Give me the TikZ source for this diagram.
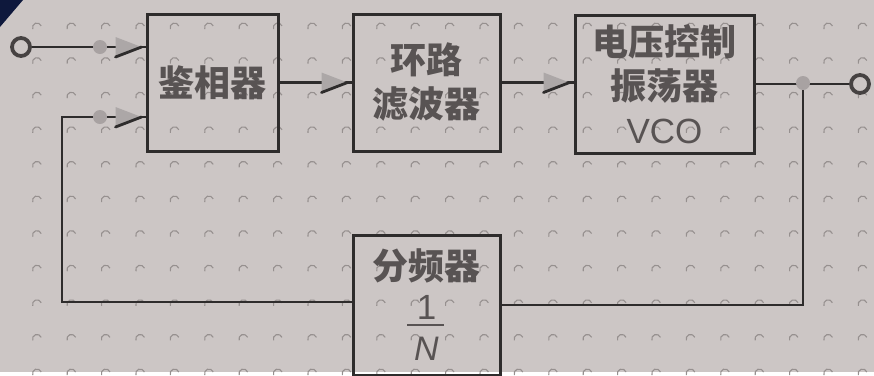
\documentclass[tikz,border=0pt]{standalone}
\usepackage{fontspec}
\setmainfont{Liberation Sans}
\newfontfamily\cjk{Noto Sans CJK SC}
\usetikzlibrary{calc}
\definecolor{bg}{RGB}{204,198,197}
\definecolor{ink}{RGB}{46,44,44}
\definecolor{txt}{RGB}{88,83,83}
\definecolor{dotc}{RGB}{150,144,143}
\definecolor{navy}{RGB}{14,24,60}
\definecolor{afill}{RGB}{172,167,167}
\definecolor{jfill}{RGB}{168,162,162}
\definecolor{ring}{RGB}{70,66,66}
\pgfdeclarelayer{bottom}
\pgfdeclarelayer{wires}
\pgfsetlayers{bottom,wires,main}
\begin{document}
\begin{tikzpicture}[x=1pt,y=-1pt,
  wire/.style={draw=ink,line width=2.8pt},
  blk/.style={draw=ink,line width=3pt,rectangle,inner sep=0pt,align=center,text=txt,font=\cjk\bfseries\fontsize{36}{44}\selectfont},
  cjktxt/.style={text=txt,font=\cjk\bfseries\fontsize{36}{44}\selectfont,inner sep=0pt},
  lattxt/.style={text=txt,font=\fontsize{35}{40}\selectfont,inner sep=0pt},
  term/.style={circle,draw=ring,line width=3.8pt,fill=bg,minimum size=18pt,inner sep=0pt},
  junc/.style={circle,fill=jfill,minimum size=14pt,inner sep=0pt},
  earrow/.pic={\fill[afill] (0,0) -- (-26,-10) -- (-26,10) -- cycle; \draw[ink,line width=2.8pt,line cap=round] (-26,10) -- (0,0);}
]
\begin{pgfonlayer}{bottom}
\fill[bg] (0,0) rectangle (874,372);
\fill[navy] (0,0) -- (23,0) -- (0,27) -- cycle;
\foreach \i in {0,...,24}{\foreach \j in {0,...,10}{
  \draw[dotc,line width=1.1pt] ({37+34.4*\i},{27.5+34.6*\j}) ++(-20:4.5) arc[start angle=-20,end angle=-200,radius=4.5];}}
\end{pgfonlayer}
\useasboundingbox (0,0) rectangle (874,372);

\node[blk,minimum width=131pt,minimum height=137pt] (pd) at (212.5,82.5) {鉴相器};
\node[blk,minimum width=147pt,minimum height=137pt] (lf) at (426.5,82.5) {环路\\滤波器};
\node[blk,minimum width=179pt,minimum height=138pt] (vco) at (664.5,84) {电压控制\\振荡器\\{\normalfont\fontsize{35}{44}\selectfont VCO}};
\node[blk,minimum width=147pt,minimum height=140pt] (div) at (426.5,305) {};
\node[cjktxt] (divl) at (426.5,266) {分频器};
\node[lattxt] (num) at (426.5,307.5) {1};
\node[lattxt,font=\itshape\fontsize{34}{40}\selectfont] (den) at (426.5,349) {N};
\draw[txt,line width=2.8pt] (407,325) -- (444,325);

\node[term] (in) at (21,47) {};
\node[junc] (j1) at (100,47) {};
\node[junc] (j2) at (100,117) {};
\node[junc] (j3) at (803,83) {};
\node[term] (out) at (860,84) {};
\coordinate (fbL) at (62,302);
\coordinate (fbR) at (803,305);

\begin{pgfonlayer}{wires}
\draw[wire] (in) -- (j1.center) -- (pd.west |- j1);
\draw[wire] (div.west |- fbL) -- (fbL) -- (fbL |- j2) -- (j2.center) -- (pd.west |- j2);
\draw[wire] (pd.east) -- (lf.west |- pd.east);
\draw[wire] (lf.east) -- (vco.west |- lf.east);
\draw[wire] (vco.east) -- (j3.center |- vco.east) -- (out);
\draw[wire] (j3.center) -- (fbR) -- (div.east);
\end{pgfonlayer}

\pic at ($(pd.west |- j1)+(-4,0)$) {earrow};
\pic at ($(pd.west |- j2)+(-4,0)$) {earrow};
\pic at ($(lf.west |- pd.east)+(-4,0)$) {earrow};
\pic at ($(vco.west |- lf.east)+(-4,0)$) {earrow};
\end{tikzpicture}
\end{document}
